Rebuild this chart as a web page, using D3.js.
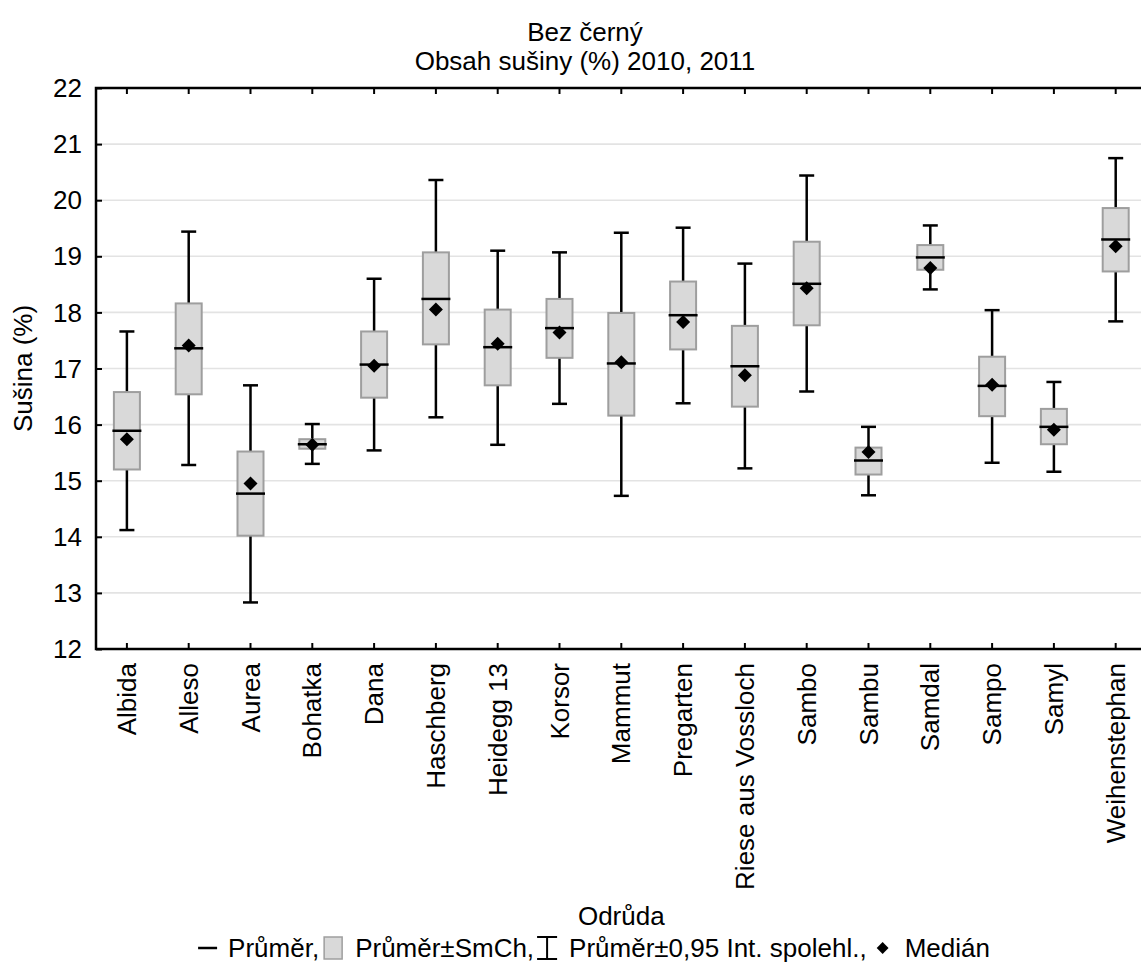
<!DOCTYPE html>
<html><head><meta charset="utf-8">
<script src="https://cdn.jsdelivr.net/npm/d3@7"></script>
<style>
body{margin:0;background:#fff}
text{font-family:"Liberation Sans",Arial,sans-serif;fill:#000}
</style>
</head><body>
<svg id="c" width="1141" height="972"></svg>
<script>
const categories = ["Albida","Alleso","Aurea","Bohatka","Dana","Haschberg","Heidegg 13","Korsor","Mammut","Pregarten","Riese aus Vossloch","Sambo","Sambu","Samdal","Sampo","Samyl","Weihenstephan"];
const means   = [15.89,17.36,14.77,15.65,17.07,18.24,17.38,17.72,17.09,17.95,17.04,18.51,15.36,18.98,16.69,15.96,19.30];
const medians = [15.74,17.41,14.95,15.64,17.05,18.05,17.44,17.64,17.11,17.83,16.88,18.43,15.51,18.79,16.71,15.91,19.18];
const seLow   = [15.20,16.54,14.02,15.57,16.48,17.43,16.70,17.19,16.16,17.34,16.32,17.77,15.11,18.76,16.15,15.65,18.73];
const seHigh  = [16.58,18.16,15.52,15.74,17.66,19.07,18.05,18.24,17.99,18.55,17.76,19.26,15.59,19.20,17.21,16.28,19.86];
const ciLow   = [14.12,15.28,12.83,15.30,15.54,16.13,15.64,16.37,14.73,16.38,15.22,16.59,14.74,18.41,15.32,15.16,17.84];
const ciHigh  = [17.66,19.44,16.70,16.01,18.60,20.36,19.10,19.07,19.42,19.51,18.87,20.44,15.96,19.55,18.04,16.76,20.75];
const yTicks  = [12,13,14,15,16,17,18,19,20,21,22];
const titleLines = ["Bez černý","Obsah sušiny (%) 2010, 2011"];
const xTitle = "Odrůda";
const yTitle = "Sušina (%)";
const legendLabels = ["Průměr,","Průměr±SmCh,","Průměr±0,95 Int. spolehl.,","Medián"];

const svg = d3.select("#c");
const L = 96, T = 88, B = 649, step = 61.8;
const R = L + step * categories.length;
const x = d3.scaleBand().domain(categories).range([L, R]).paddingInner(0).paddingOuter(0);
const y = d3.scaleLinear().domain([12, 22]).range([B, T]);
const FS = 26;

// gridlines
svg.append("g").selectAll("line").data(yTicks.filter(t => t > 12 && t < 22)).join("line")
  .attr("x1", L).attr("x2", R).attr("y1", d => y(d)).attr("y2", d => y(d))
  .attr("stroke", "#e3e3e3").attr("stroke-width", 1.6);

// axes (inward ticks)
const yAx = svg.append("g").attr("transform", `translate(${L},0)`)
  .call(d3.axisRight(y).tickValues(yTicks).tickSize(6).tickFormat(""));
yAx.selectAll("line").attr("stroke", "#000").attr("stroke-width", 2);
yAx.select(".domain").remove();
svg.append("g").selectAll("text").data(yTicks).join("text")
  .attr("x", L - 14).attr("y", d => y(d)).attr("dy", "0.35em")
  .attr("text-anchor", "end").attr("font-size", FS).text(d => d);

const xb = svg.append("g").attr("transform", `translate(0,${B})`)
  .call(d3.axisTop(x).tickSize(6).tickFormat(""));
xb.selectAll("line").attr("stroke", "#000").attr("stroke-width", 2);
xb.select(".domain").remove();
const xt = svg.append("g").attr("transform", `translate(0,${T})`)
  .call(d3.axisBottom(x).tickSize(6).tickFormat(""));
xt.selectAll("line").attr("stroke", "#000").attr("stroke-width", 2);
xt.select(".domain").remove();

// frame
svg.append("rect").attr("x", L).attr("y", T).attr("width", R - L).attr("height", B - T)
  .attr("fill", "none").attr("stroke", "#000").attr("stroke-width", 2.5);

// category labels
svg.append("g").selectAll("text").data(categories).join("text")
  .attr("transform", d => `translate(${x(d) + x.bandwidth() / 2},663) rotate(-90)`)
  .attr("text-anchor", "end").attr("dy", "0.35em").attr("font-size", FS).text(d => d);

// marks
const boxW = 26, capW = 15, meanW = 29;
const g = svg.append("g");
const cx = i => x(categories[i]) + x.bandwidth() / 2;
categories.forEach((c, i) => {
  g.append("line").attr("x1", cx(i)).attr("x2", cx(i))
    .attr("y1", y(ciLow[i])).attr("y2", y(ciHigh[i]))
    .attr("stroke", "#000").attr("stroke-width", 2.5);
  [ciLow[i], ciHigh[i]].forEach(v => g.append("line")
    .attr("x1", cx(i) - capW / 2).attr("x2", cx(i) + capW / 2)
    .attr("y1", y(v)).attr("y2", y(v)).attr("stroke", "#000").attr("stroke-width", 2.5));
  g.append("rect").attr("x", cx(i) - boxW / 2).attr("width", boxW)
    .attr("y", y(seHigh[i])).attr("height", y(seLow[i]) - y(seHigh[i]))
    .attr("fill", "#d9d9d9").attr("stroke", "#9e9e9e").attr("stroke-width", 2);
  g.append("line").attr("x1", cx(i) - meanW / 2).attr("x2", cx(i) + meanW / 2)
    .attr("y1", y(means[i])).attr("y2", y(means[i]))
    .attr("stroke", "#000").attr("stroke-width", 2.5);
});
const diamond = d3.symbol().type(d3.symbolSquare).size(98);
g.selectAll("path.med").data(medians).join("path").attr("class", "med")
  .attr("d", diamond)
  .attr("transform", (d, i) => `translate(${cx(i)},${y(d)}) rotate(45)`)
  .attr("fill", "#000");

// titles
svg.append("text").attr("x", 585).attr("y", 41).attr("text-anchor", "middle").attr("font-size", FS).text(titleLines[0]);
svg.append("text").attr("x", 585).attr("y", 70).attr("text-anchor", "middle").attr("font-size", FS).text(titleLines[1]);
svg.append("text").attr("x", (L + R) / 2).attr("y", 925).attr("text-anchor", "middle").attr("font-size", FS).text(xTitle);
svg.append("text").attr("transform", `translate(32,${(T + B) / 2}) rotate(-90)`)
  .attr("text-anchor", "middle").attr("font-size", FS).text(yTitle);

// legend
const lg = svg.append("g");
const ly = 948;
let cur = 0;
lg.append("line").attr("x1", cur).attr("x2", cur + 19).attr("y1", ly).attr("y2", ly).attr("stroke", "#000").attr("stroke-width", 2.5);
cur += 30;
let t = lg.append("text").attr("x", cur).attr("y", ly + 9).attr("font-size", FS).text(legendLabels[0]);
cur += t.node().getComputedTextLength() + 5;
lg.append("rect").attr("x", cur).attr("y", ly - 11).attr("width", 18).attr("height", 22)
  .attr("fill", "#d9d9d9").attr("stroke", "#9e9e9e").attr("stroke-width", 1.5);
cur += 31;
t = lg.append("text").attr("x", cur).attr("y", ly + 9).attr("font-size", FS).text(legendLabels[1]);
cur += t.node().getComputedTextLength() + 3;
lg.append("path").attr("d", `M${cur},${ly - 11}H${cur + 20}M${cur + 10},${ly - 11}V${ly + 11}M${cur},${ly + 11}H${cur + 20}`)
  .attr("stroke", "#000").attr("stroke-width", 2).attr("fill", "none");
cur += 32;
t = lg.append("text").attr("x", cur).attr("y", ly + 9).attr("font-size", FS).text(legendLabels[2]);
cur += t.node().getComputedTextLength() + 16;
lg.append("path").attr("d", d3.symbol().type(d3.symbolSquare).size(70)).attr("transform", `translate(${cur},${ly}) rotate(45)`).attr("fill", "#000");
cur += 22;
t = lg.append("text").attr("x", cur).attr("y", ly + 9).attr("font-size", FS).text(legendLabels[3]);
cur += t.node().getComputedTextLength();
lg.attr("transform", `translate(${594 - cur / 2},0)`);
</script>
</body></html>
